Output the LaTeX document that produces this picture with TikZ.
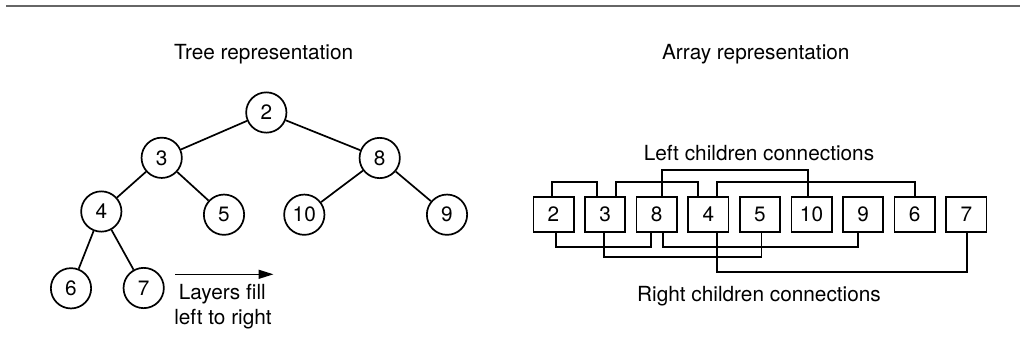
\documentclass[tikz,border=0pt]{standalone}
\usepackage{fontspec}
\setmainfont{TeX Gyre Heros}
\usetikzlibrary{arrows.meta}
\begin{document}
\begin{tikzpicture}[x=1pt,y=-1pt,
  font=\fontsize{20.8}{25}\selectfont,
  tnode/.style={circle,draw,line width=1.7pt,minimum size=40.3pt,inner sep=0pt},
  abox/.style={rectangle,draw,line width=1.7pt,minimum width=40.3pt,minimum height=35.3pt,inner sep=0pt},
  edge/.style={line width=1.7pt},
  conn/.style={line width=1.7pt},
  lbl/.style={anchor=base,inner sep=0pt}]
\useasboundingbox[fill=white] (0,0) rectangle (1020,359);
\draw[line width=1.5pt,color=black!60] (6,6) -- (1020,6);
% titles
\node[lbl] (ttree) at (263.7,59.3) {Tree representation};
\node[lbl] (tarr) at (755.8,59.5) {Array representation};
% tree
\node[tnode] (n2) at (266.3,112.5) {2};
\node[tnode] (n3) at (161.7,157.8) {3};
\node[tnode] (n8) at (379.7,158) {8};
\node[tnode] (n4) at (101.3,211.5) {4};
\node[tnode] (n5) at (224,214.7) {5};
\node[tnode] (n10) at (304.3,214.7) {10};
\node[tnode] (n9) at (447,214.7) {9};
\node[tnode] (n6) at (71,288.3) {6};
\node[tnode] (n7) at (143.7,288) {7};
\draw[edge] (n2) -- (n3);
\draw[edge] (n2) -- (n8);
\draw[edge] (n3) -- (n4);
\draw[edge] (n3) -- (n5);
\draw[edge] (n8) -- (n10);
\draw[edge] (n8) -- (n9);
\draw[edge] (n4) -- (n6);
\draw[edge] (n4) -- (n7);
\coordinate (arrS) at (175,274.3);
\coordinate (arrE) at (273.5,274.3);
\draw[line width=1.4pt,-{Triangle[length=15pt,width=9pt]}] (arrS) -- (arrE);
\node[lbl] (lay1) at (222.3,299) {Layers fill};
\node[lbl] (lay2) at (223,324) {left to right};
% array
\node[abox] (b2) at (553.5,214.5) {2};
\node[abox] (b3) at (605.1,214.5) {3};
\node[abox] (b8) at (656.7,214.5) {8};
\node[abox] (b4) at (708.3,214.5) {4};
\node[abox] (b5) at (759.9,214.5) {5};
\node[abox] (b10) at (811.5,214.5) {10};
\node[abox] (b9) at (863.1,214.5) {9};
\node[abox] (b6) at (914.7,214.5) {6};
\node[abox] (b7) at (966.3,214.5) {7};
% left children (top)
\draw[conn] ([xshift=-1.2pt]b2.north) -- ++(0,-13.7) -| ([xshift=-8.4pt]b3.north);
\draw[conn] ([xshift=10.9pt]b3.north) -- ++(0,-13.7) -| ([xshift=-10.6pt]b4.north);
\draw[conn] ([xshift=5.6pt]b8.north) -- ++(0,-26) -| ([xshift=-3.8pt]b10.north);
\draw[conn] ([xshift=8.4pt]b4.north) -- ++(0,-13.7) -| ([xshift=0.3pt]b6.north);
% right children (bottom)
\draw[conn] ([xshift=2.2pt]b2.south) -- ++(0,13.7) -| ([xshift=-5.7pt]b8.south);
\draw[conn] ([xshift=-0.8pt]b3.south) -- ++(0,24.3) -| ([xshift=1.5pt]b5.south);
\draw[conn] ([xshift=6.6pt]b8.south) -- ++(0,13.7) -| ([xshift=-4.8pt]b9.south);
\draw[conn] ([xshift=8.4pt]b4.south) -- ++(0,39.3) -| ([xshift=0.4pt]b7.south);
\node[lbl] (lleft) at (759,160.7) {Left children connections};
\node[lbl] (lright) at (759,301) {Right children connections};
\end{tikzpicture}
\end{document}
